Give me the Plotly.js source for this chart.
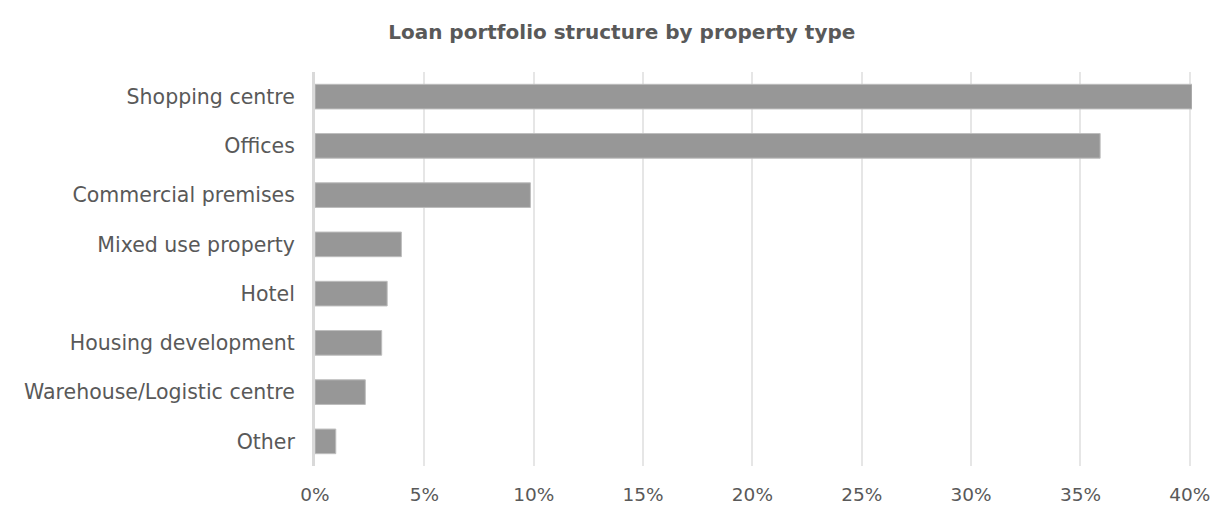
<!DOCTYPE html>
<html>
<head>
<meta charset="utf-8">
<script src="https://cdn.plot.ly/plotly-3.0.1.min.js"></script>
<style>html,body{margin:0;padding:0;background:#fff;}#chart{width:1212px;height:507px;}</style>
</head>
<body>
<div id="chart"></div>
<script>
const categories = ["Shopping centre", "Offices", "Commercial premises", "Mixed use property", "Hotel", "Housing development", "Warehouse/Logistic centre", "Other"];
const shares = [40.1, 35.9, 9.85, 3.95, 3.3, 3.05, 2.3, 0.95];
const tickValues = [0, 5, 10, 15, 20, 25, 30, 35, 40];
const tickLabels = ["0%", "5%", "10%", "15%", "20%", "25%", "30%", "35%", "40%"];

const font = "DejaVu Sans, Verdana, sans-serif";
Plotly.newPlot("chart", [{
  type: "bar",
  orientation: "h",
  y: categories,
  x: shares,
  marker: {color: "#979797", line: {color: "#bdbdbd", width: 1}},
  hoverinfo: "x+y"
}], {
  width: 1212, height: 507,
  margin: {l: 315, r: 20, t: 72, b: 41},
  paper_bgcolor: "#fff", plot_bgcolor: "#fff",
  bargap: 0.5,
  showlegend: false,
  title: {text: "<b>Loan portfolio structure by property type</b>", x: 0.513, xanchor: "center", y: 0.937, yanchor: "middle",
          font: {family: font, size: 20, color: "#595959"}},
  xaxis: {
    range: [0, 40.1], tickvals: tickValues, ticktext: tickLabels,
    showgrid: true, gridcolor: "#e6e6e6", gridwidth: 2,
    zeroline: false, showline: false, ticks: "",
    ticklabelstandoff: 15,
    tickfont: {family: font, size: 18.5, color: "#595959"},
    fixedrange: true
  },
  yaxis: {
    autorange: "reversed", ticks: "", showgrid: false,
    showline: true, linecolor: "#d9d9d9", linewidth: 3,
    ticklabelstandoff: 13,
    tickfont: {family: font, size: 20.5, color: "#595959"},
    fixedrange: true
  }
}, {displayModeBar: false, staticPlot: true});
</script>
</body>
</html>
